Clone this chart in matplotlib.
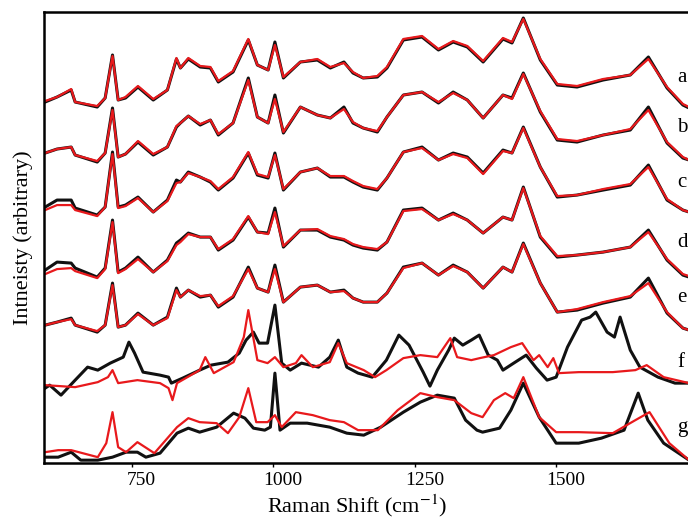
import matplotlib
matplotlib.use("Agg")
import matplotlib.pyplot as plt
from matplotlib.transforms import ScaledTranslation

plt.rcParams['font.family'] = ['Liberation Serif', 'DejaVu Serif']
plt.rcParams['mathtext.fontset'] = 'stix'

# Raman shift grid (cm-1) shared by spectra a-e
shift_ae = [597, 618, 643, 650, 689, 703, 716, 726, 739, 761,
            788, 813, 829, 836, 850, 871, 889, 903, 929, 956,
            972, 991, 1003, 1018, 1048, 1078, 1101, 1125, 1141, 1159,
            1184, 1201, 1230, 1263, 1292, 1318, 1343, 1371, 1406, 1422,
            1442, 1472, 1502, 1537, 1583, 1631, 1663, 1696, 1724, 1735]

a_black = [11, 16, 23, 11, 6, 15, 58, 13, 15, 26, 13, 23, 54, 45, 54, 46, 45, 31, 41, 73,
           48, 43, 71, 35, 51, 53, 45, 51, 40, 35, 36, 45, 73, 76, 63, 71, 66, 51, 74, 70,
           95, 53, 28, 26, 33, 38, 56, 25, 8, 5]
a_red = [12, 16, 24, 11, 7, 15, 57, 13, 16, 27, 14, 23, 55, 45, 55, 47, 46, 32, 42, 74,
         48, 43, 68, 36, 51, 54, 46, 50, 41, 35, 37, 46, 74, 77, 64, 72, 67, 52, 75, 71,
         94, 54, 29, 27, 34, 38, 54, 26, 9, 6]
b_black = [10, 14, 16, 8, 1, 10, 55, 6, 9, 21, 8, 16, 36, 40, 47, 38, 43, 28, 40, 85,
           46, 40, 68, 30, 56, 48, 45, 56, 40, 35, 31, 46, 68, 71, 60, 71, 63, 45, 68, 65,
           90, 51, 23, 21, 28, 33, 56, 20, 5, 3]
b_red = [10, 14, 16, 8, 2, 10, 53, 6, 9, 22, 9, 16, 37, 40, 47, 39, 43, 29, 40, 83,
         46, 40, 64, 31, 56, 48, 45, 54, 41, 35, 32, 46, 68, 71, 61, 70, 63, 45, 68, 64,
         89, 52, 24, 22, 28, 34, 53, 21, 6, 3]
c_black = [11, 18, 18, 10, 3, 11, 66, 11, 13, 21, 6, 18, 38, 36, 46, 41, 36, 28, 40, 65,
           43, 40, 65, 28, 46, 50, 41, 41, 36, 31, 28, 40, 66, 71, 58, 65, 61, 45, 68, 65,
           91, 51, 21, 23, 28, 33, 53, 18, 8, 6]
c_red = [8, 13, 13, 8, 2, 11, 64, 10, 12, 20, 6, 17, 35, 36, 45, 41, 37, 29, 41, 66,
         44, 41, 63, 29, 46, 50, 42, 42, 37, 32, 29, 40, 66, 70, 58, 64, 60, 44, 67, 65,
         90, 51, 22, 23, 29, 34, 51, 19, 8, 6]
d_black = [8, 16, 15, 10, 1, 10, 58, 6, 10, 21, 6, 18, 35, 38, 45, 41, 41, 28, 38, 61,
           46, 45, 70, 31, 48, 48, 41, 38, 33, 30, 28, 36, 68, 70, 58, 65, 58, 45, 61, 58,
           91, 41, 21, 23, 26, 31, 48, 18, 3, 1]
d_red = [4, 9, 10, 7, 0, 9, 56, 5, 9, 19, 6, 17, 33, 36, 44, 41, 41, 29, 39, 62,
         46, 44, 66, 32, 48, 49, 42, 39, 34, 31, 29, 36, 67, 69, 58, 64, 58, 45, 61, 58,
         90, 42, 22, 23, 26, 31, 46, 19, 4, 2]
e_black = [8, 11, 15, 8, 1, 8, 50, 6, 8, 20, 8, 16, 45, 36, 43, 36, 38, 26, 36, 66,
           45, 41, 68, 31, 46, 48, 41, 43, 35, 31, 31, 40, 66, 70, 58, 68, 61, 45, 66, 61,
           90, 50, 21, 23, 30, 36, 55, 20, 5, 3]
e_red = [8, 11, 14, 8, 2, 8, 48, 6, 8, 19, 8, 15, 43, 36, 43, 37, 38, 27, 37, 64,
         45, 41, 64, 31, 46, 48, 41, 42, 35, 31, 31, 40, 65, 70, 58, 67, 61, 45, 66, 61,
         89, 50, 21, 24, 31, 37, 50, 21, 5, 3]

# spectrum f
f_black_shift = [597, 605, 625, 650, 672, 690, 712, 735, 745, 755,
                 770, 800, 815, 820, 840, 870, 890, 920, 940, 952,
                 965, 975, 990, 1003, 1015, 1030, 1050, 1080, 1100, 1115,
                 1130, 1150, 1175, 1200, 1222, 1240, 1265, 1277, 1290, 1310,
                 1320, 1335, 1350, 1364, 1380, 1396, 1406, 1425, 1447, 1465,
                 1484, 1500, 1520, 1545, 1560, 1570, 1590, 1603, 1613, 1631,
                 1648, 1680, 1710, 1735]
f_black = [10, 13, 3, 18, 31, 28, 35, 41, 56, 45, 26, 23, 21, 15, 20, 28, 33, 36, 45, 58,
           66, 55, 55, 93, 35, 28, 35, 31, 41, 58, 31, 25, 21, 38, 63, 53, 26, 12, 28, 48,
           60, 53, 58, 63, 43, 38, 28, 35, 43, 30, 18, 21, 51, 78, 81, 86, 66, 61, 81, 48,
           31, 21, 15, 15]
f_red_shift = [597, 650, 690, 708, 716, 726, 760, 800, 815, 822,
               830, 870, 880, 895, 930, 948, 956, 972, 990, 1003,
               1018, 1040, 1050, 1070, 1100, 1115, 1130, 1160, 1180, 1200,
               1230, 1260, 1290, 1313, 1325, 1350, 1365, 1390, 1420, 1440,
               1460, 1470, 1485, 1495, 1505, 1540, 1600, 1640, 1660, 1690, 1735]
f_red = [13, 11, 16, 21, 28, 15, 18, 15, 10, -2, 15, 28, 41, 25, 36, 61, 88, 38, 35, 41,
         31, 35, 43, 31, 36, 55, 35, 28, 21, 28, 40, 43, 41, 60, 41, 38, 40, 43, 51, 55,
         38, 43, 31, 40, 25, 26, 26, 28, 33, 21, 15]

# spectrum g
g_black_shift = [597, 620, 643, 660, 690, 716, 740, 760, 775, 800,
                 830, 850, 870, 900, 930, 950, 965, 985, 995, 1003,
                 1012, 1030, 1060, 1100, 1130, 1160, 1190, 1230, 1260, 1290,
                 1320, 1340, 1360, 1370, 1400, 1420, 1442, 1470, 1500, 1540,
                 1580, 1620, 1645, 1662, 1690, 1735]
g_black = [6, 6, 11, 3, 3, 6, 11, 11, 6, 10, 30, 35, 31, 36, 50, 45, 35, 33, 36, 90,
           33, 40, 40, 36, 30, 28, 36, 51, 61, 68, 65, 43, 33, 31, 35, 53, 80, 46, 20, 20,
           25, 33, 70, 43, 20, 3]
g_red_shift = [597, 620, 643, 690, 705, 716, 726, 740, 760, 790,
               830, 850, 870, 900, 920, 940, 956, 970, 990, 1003,
               1015, 1040, 1070, 1100, 1125, 1150, 1185, 1220, 1260, 1290,
               1320, 1350, 1370, 1390, 1410, 1425, 1442, 1470, 1500, 1540,
               1600, 1640, 1665, 1700, 1735]
g_red = [11, 13, 13, 6, 20, 51, 16, 11, 21, 10, 36, 45, 41, 40, 30, 46, 75, 41, 41, 48,
         36, 51, 48, 43, 41, 33, 33, 53, 70, 66, 63, 50, 46, 63, 70, 65, 86, 46, 31, 31,
         30, 43, 51, 20, 3]

labels = ['a', 'b', 'c', 'd', 'e', 'f', 'g']
offsets = [350, 300, 245, 185, 130, 65, 0]

spectra = [
    (shift_ae, a_black, shift_ae, a_red),
    (shift_ae, b_black, shift_ae, b_red),
    (shift_ae, c_black, shift_ae, c_red),
    (shift_ae, d_black, shift_ae, d_red),
    (shift_ae, e_black, shift_ae, e_red),
    (f_black_shift, f_black, f_red_shift, f_red),
    (g_black_shift, g_black, g_red_shift, g_red),
]

fig = plt.figure(figsize=(6.88, 5.21), dpi=100)
ax = fig.add_axes([0.064, 0.111, 0.936, 0.866])

for (xb, yb, xr, yr), off, lab in zip(spectra, offsets, labels):
    ax.plot(xb, [v + off for v in yb], color='#111111', lw=2.2, solid_joinstyle='round')
    ax.plot(xr, [v + off for v in yr], color='#e8191c', lw=1.6, solid_joinstyle='round')
    ax.text(1714, off + 36, lab, fontsize=15, ha='left', va='center')

ax.set_xlim(595, 1733)
ax.set_ylim(0, 451)
ax.set_xticks([750, 1000, 1250, 1500])
ax.set_yticks([])
ax.tick_params(axis='x', labelsize=14, length=3, width=1.0, pad=3)
# tick labels in the original sit a little right of their ticks
shift = ScaledTranslation(7 / 72, 0, fig.dpi_scale_trans)
for t in ax.get_xticklabels():
    t.set_transform(t.get_transform() + shift)

ax.spines['right'].set_visible(False)
for s in ['top', 'left', 'bottom']:
    ax.spines[s].set_linewidth(1.8)

ax.set_xlabel('Raman Shift (cm$^{-1}$)', fontsize=16)
ax.xaxis.set_label_coords(0.486, -0.066)
ax.set_ylabel('Intneisty (arbitrary)', fontsize=16, labelpad=8)

fig.savefig('out.png', dpi=100)
